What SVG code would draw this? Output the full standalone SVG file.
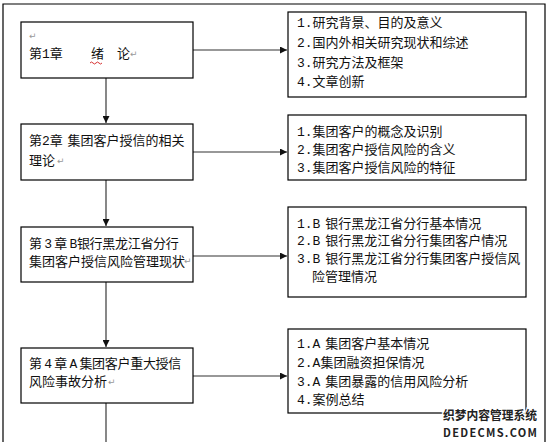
<svg xmlns="http://www.w3.org/2000/svg" width="550" height="442" viewBox="0 0 550 442">
<defs>
<style>
.box{fill:#fff;stroke:#000;stroke-width:1.2}
.t{font-family:"Liberation Mono","Noto Sans CJK SC",monospace;font-size:13px;fill:#111}
.ws{word-spacing:-3px}
.ws2{word-spacing:-5px;letter-spacing:-0.3px}
.pm{font-family:"DejaVu Sans",sans-serif;font-size:9px;fill:#999}
.ln{stroke:#333;stroke-width:1.2;fill:none}
.vl{stroke:#555;stroke-width:1.4;fill:none}
.wm{font-family:"Noto Sans CJK SC",sans-serif;font-weight:bold;fill:#222;stroke:#fff;stroke-width:2.5;paint-order:stroke}
</style>
<marker id="ah" viewBox="0 0 10 10" refX="10" refY="5" markerWidth="7" markerHeight="7" orient="auto" markerUnits="userSpaceOnUse">
<path d="M0,0 L10,5 L0,10 z" fill="#111"/>
</marker>
</defs>
<rect width="550" height="442" fill="#fff"/>
<path d="M3,450 V4 H545 V450" fill="none" stroke="#000" stroke-width="1.2"/>

<g id="connectors">
<path class="vl" d="M106,78 V123" marker-end="url(#ah)"/>
<path class="vl" d="M106,180 V226" marker-end="url(#ah)"/>
<path class="vl" d="M106,282 V347" marker-end="url(#ah)"/>
<path class="vl" d="M106,403 V450"/>
<path class="ln" d="M193,50 H287" marker-end="url(#ah)"/>
<path class="ln" d="M193,152 H287" marker-end="url(#ah)"/>
<path class="ln" d="M193,256 H287" marker-end="url(#ah)"/>
<path class="ln" d="M193,376 H287" marker-end="url(#ah)"/>
</g>

<g id="ch1">
<rect class="box" x="21" y="22" width="172" height="56"/>
<text class="pm" x="29" y="39">↵</text>
<text class="t" y="58"><tspan x="29">第1章</tspan><tspan x="91">绪</tspan><tspan x="117">论</tspan></text>
<text class="pm" x="130" y="57">↵</text>
<path d="M90,63 q1.5,-2 3,0 t3,0 t3,0 t3,0" fill="none" stroke="#c00" stroke-width="0.8"/>
</g>

<g id="ch1-items">
<rect class="box" x="288" y="12" width="238" height="85"/>
<text class="t" x="297" y="27">1.研究背景、目的及意义</text>
<text class="t" x="297" y="47">2.国内外相关研究现状和综述</text>
<text class="t" x="297" y="67">3.研究方法及框架</text>
<text class="t" x="297" y="86">4.文章创新</text>
</g>

<g id="ch2">
<rect class="box" x="21" y="124" width="172" height="56"/>
<text class="t ws" x="29" y="145">第2章 集团客户授信的相关</text>
<text class="t" x="29" y="165">理论</text>
<text class="pm" x="57" y="164">↵</text>
</g>

<g id="ch2-items">
<rect class="box" x="288" y="115" width="238" height="65"/>
<text class="t" x="297" y="136">1.集团客户的概念及识别</text>
<text class="t" x="297" y="154">2.集团客户授信风险的含义</text>
<text class="t" x="297" y="172">3.集团客户授信风险的特征</text>
</g>

<g id="ch3">
<rect class="box" x="21" y="227" width="172" height="55"/>
<text class="t ws2" x="29" y="248">第 3 章 B银行黑龙江省分行</text>
<text class="t" x="29" y="266">集团客户授信风险管理现状</text>
<text class="pm" x="184" y="264">↵</text>
</g>

<g id="ch3-items">
<rect class="box" x="288" y="207" width="238" height="90"/>
<text class="t ws" x="297" y="228">1.B 银行黑龙江省分行基本情况</text>
<text class="t ws" x="297" y="245">2.B 银行黑龙江省分行集团客户情况</text>
<text class="t ws" x="297" y="263">3.B 银行黑龙江省分行集团客户授信风</text>
<text class="t" x="312" y="281">险管理情况</text>
</g>

<g id="ch4">
<rect class="box" x="21" y="348" width="172" height="55"/>
<text class="t ws2" x="29" y="368">第 4 章 A 集团客户重大授信</text>
<text class="t" x="29" y="386">风险事故分析</text>
<text class="pm" x="108" y="385">↵</text>
</g>

<g id="ch4-items">
<rect class="box" x="288" y="329" width="238" height="84"/>
<text class="t ws" x="297" y="348">1.A 集团客户基本情况</text>
<text class="t" x="297" y="367">2.A集团融资担保情况</text>
<text class="t ws" x="297" y="386">3.A 集团暴露的信用风险分析</text>
<text class="t" x="297" y="404">4.案例总结</text>
</g>

<g id="watermark">
<text class="wm" x="443" y="420" font-size="12.5" textLength="94" lengthAdjust="spacingAndGlyphs">织梦内容管理系统</text>
<text class="wm" x="443" y="437" font-size="11" textLength="94" lengthAdjust="spacing">DEDECMS.COM</text>
</g>
</svg>
